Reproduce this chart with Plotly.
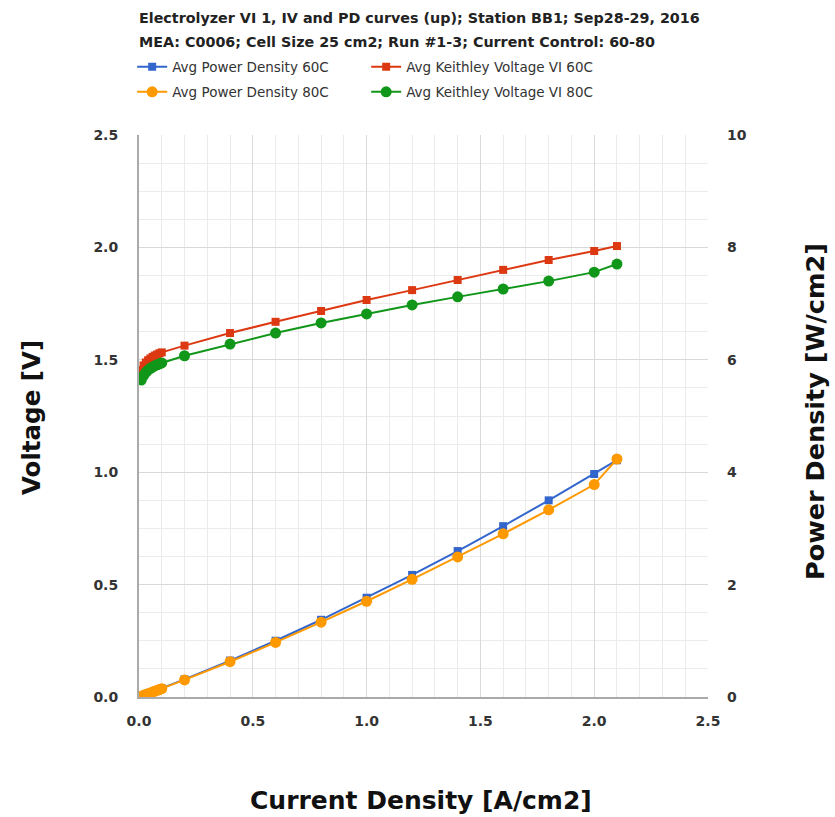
import plotly.graph_objects as go

# Current density set points [A/cm2]
current = [0.01, 0.02, 0.03, 0.04, 0.05, 0.06, 0.07, 0.08, 0.09, 0.10,
           0.2, 0.4, 0.6, 0.8, 1.0, 1.2, 1.4, 1.6, 1.8, 2.0, 2.1]

# Average Keithley cell voltage [V]
volt_60c = [1.455, 1.475, 1.488, 1.498, 1.506, 1.513, 1.519, 1.524, 1.529, 1.533,
            1.563, 1.619, 1.669, 1.717, 1.766, 1.810, 1.855, 1.900, 1.944, 1.984, 2.006]
volt_80c = [1.410, 1.430, 1.444, 1.454, 1.462, 1.468, 1.474, 1.478, 1.482, 1.486,
            1.518, 1.570, 1.619, 1.664, 1.704, 1.744, 1.780, 1.815, 1.850, 1.890, 1.926]

# Average power density [W/cm2]
pd_60c = [0.015, 0.030, 0.045, 0.060, 0.075, 0.091, 0.106, 0.122, 0.138, 0.153,
          0.313, 0.648, 1.001, 1.374, 1.766, 2.172, 2.597, 3.040, 3.499, 3.968, 4.213]
pd_80c = [0.014, 0.029, 0.043, 0.058, 0.073, 0.088, 0.103, 0.118, 0.133, 0.149,
          0.304, 0.628, 0.971, 1.331, 1.704, 2.093, 2.492, 2.904, 3.330, 3.780, 4.235]

title_lines = [
    "Electrolyzer VI 1, IV and PD curves (up); Station BB1; Sep28-29, 2016",
    "MEA: C0006; Cell Size 25 cm2; Run #1-3; Current Control: 60-80",
]

BLUE, RED, ORANGE, GREEN = "#3366cc", "#dc3912", "#ff9900", "#109618"
SANS = "DejaVu Sans"

fig = go.Figure()

fig.add_trace(go.Scatter(
    x=current, y=pd_60c, name="Avg Power Density 60C", yaxis="y2",
    mode="lines+markers", line=dict(color=BLUE, width=2),
    marker=dict(symbol="square", size=8, color=BLUE), legend="legend"))
fig.add_trace(go.Scatter(
    x=current, y=volt_60c, name="Avg Keithley Voltage VI 60C", yaxis="y",
    mode="lines+markers", line=dict(color=RED, width=2),
    marker=dict(symbol="square", size=8, color=RED), legend="legend"))
fig.add_trace(go.Scatter(
    x=current, y=pd_80c, name="Avg Power Density 80C", yaxis="y2",
    mode="lines+markers", line=dict(color=ORANGE, width=2),
    marker=dict(symbol="circle", size=11, color=ORANGE), legend="legend2"))
fig.add_trace(go.Scatter(
    x=current, y=volt_80c, name="Avg Keithley Voltage VI 80C", yaxis="y",
    mode="lines+markers", line=dict(color=GREEN, width=2),
    marker=dict(symbol="circle", size=11, color=GREEN), legend="legend2"))

tick_font = dict(family=SANS, size=14, color="#333333", weight="bold")
legend_common = dict(
    orientation="h", xref="paper", yref="paper", xanchor="left", yanchor="middle",
    entrywidth=189, entrywidthmode="pixels", itemwidth=30,
    font=dict(family=SANS, size=13.5, color="#333333"),
    bgcolor="rgba(0,0,0,0)", borderwidth=0, tracegroupgap=0,
)

annotations = [
    dict(text=f"<b>{title_lines[0]}</b>", xref="paper", yref="paper",
         x=-0.004, y=(697 - 18) / 562, xanchor="left", yanchor="middle",
         showarrow=False, font=dict(family=SANS, size=14.3, color="#222222")),
    dict(text=f"<b>{title_lines[1]}</b>", xref="paper", yref="paper",
         x=-0.004, y=(697 - 42) / 562, xanchor="left", yanchor="middle",
         showarrow=False, font=dict(family=SANS, size=14.3, color="#222222")),
    dict(text="<b>Current Density [A/cm2]</b>", xref="paper", yref="paper",
         x=(421 - 139) / 569, y=(697 - 800) / 562, xanchor="center", yanchor="middle",
         showarrow=False, font=dict(family=SANS, size=25, color="#111111")),
    dict(text="<b>Voltage [V]</b>", xref="paper", yref="paper",
         x=(31 - 139) / 569, y=(697 - 418) / 562, xanchor="center", yanchor="middle",
         textangle=-90, showarrow=False, font=dict(family=SANS, size=24.5, color="#111111")),
    dict(text="<b>Power Density [W/cm2]</b>", xref="paper", yref="paper",
         x=(815 - 139) / 569, y=(697 - 412) / 562, xanchor="center", yanchor="middle",
         textangle=-90, showarrow=False, font=dict(family=SANS, size=25.5, color="#111111")),
]

fig.update_layout(
    width=835, height=817,
    margin=dict(l=139, r=127, t=135, b=120, autoexpand=False),
    paper_bgcolor="white", plot_bgcolor="white",
    showlegend=True,
    legend=dict(x=-0.012, y=(697 - 67) / 562, **legend_common),
    legend2=dict(x=-0.012, y=(697 - 92) / 562, **legend_common),
    annotations=annotations,
    xaxis=dict(
        range=[0, 2.5], tickmode="linear", tick0=0, dtick=0.5, tickformat=".1f",
        showgrid=True, gridcolor="#d9d9d9", gridwidth=1,
        minor=dict(dtick=0.1, showgrid=True, gridcolor="#ebebeb", gridwidth=1),
        showline=True, linecolor="#aaaaaa", linewidth=2, zeroline=False,
        ticks="", ticklabelstandoff=10, tickfont=tick_font,
    ),
    yaxis=dict(
        range=[0, 2.5], tickmode="linear", tick0=0, dtick=0.5, tickformat=".1f",
        showgrid=True, gridcolor="#d9d9d9", gridwidth=1,
        minor=dict(dtick=0.125, showgrid=True, gridcolor="#ebebeb", gridwidth=1),
        showline=True, linecolor="#aaaaaa", linewidth=2, zeroline=False,
        ticks="", ticklabelstandoff=16, tickfont=tick_font,
    ),
    yaxis2=dict(
        range=[0, 10], tickmode="linear", tick0=0, dtick=2, overlaying="y", side="right",
        showgrid=False, zeroline=False, showline=False,
        ticks="", ticklabelstandoff=18, tickfont=tick_font,
    ),
)

fig.write_html("out.html")
